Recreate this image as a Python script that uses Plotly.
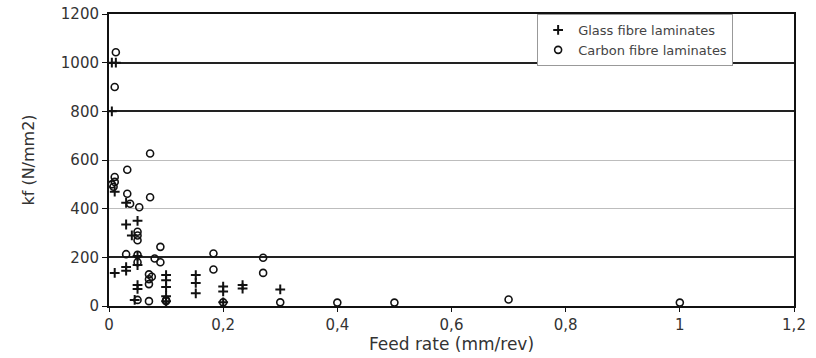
import plotly.graph_objects as go

# Glass fibre laminates (feed rate mm/rev, kf N/mm2)
glass_x = [0.005, 0.012, 0.005, 0.01, 0.03, 0.03, 0.05, 0.04, 0.05, 0.05, 0.01, 0.03, 0.03,
           0.05, 0.05, 0.045, 0.1, 0.1, 0.1, 0.1, 0.1, 0.152, 0.152, 0.152, 0.2, 0.2, 0.2,
           0.234, 0.234, 0.3]
glass_y = [1000, 1000, 800, 470, 424, 335, 350, 290, 205, 168, 136, 160, 145,
           86, 70, 25, 127, 106, 78, 40, 20, 127, 95, 52, 80, 60, 15,
           86, 72, 68]

# Carbon fibre laminates
carbon_x = [0.012, 0.01, 0.072, 0.032, 0.01, 0.005, 0.01, 0.008, 0.032, 0.072, 0.037, 0.053,
            0.05, 0.05, 0.05, 0.09, 0.03, 0.05, 0.08, 0.09, 0.183, 0.183, 0.27, 0.27,
            0.07, 0.075, 0.07, 0.07, 0.07, 0.1, 0.1, 0.2, 0.3, 0.4, 0.5, 0.7, 1.0, 0.05, 0.05]
carbon_y = [1043, 900, 627, 560, 530, 500, 510, 490, 461, 447, 420, 406,
            305, 290, 270, 243, 213, 210, 195, 180, 216, 150, 198, 136,
            130, 120, 110, 90, 20, 20, 25, 15, 15, 14, 14, 27, 14, 25, 180]

x_tickvals = [0, 0.2, 0.4, 0.6, 0.8, 1.0, 1.2]
x_ticktext = ["0", "0,2", "0,4", "0,6", "0,8", "1", "1,2"]
y_tickvals = [0, 200, 400, 600, 800, 1000, 1200]
y_dark_grid = [200, 800, 1000]

font_family = "DejaVu Sans, Arial, sans-serif"

fig = go.Figure()
fig.add_trace(go.Scatter(
    x=glass_x, y=glass_y, mode="markers", name="Glass fibre laminates",
    marker=dict(symbol="cross-thin", size=7, color="#111", line=dict(width=2, color="#111")),
))
fig.add_trace(go.Scatter(
    x=carbon_x, y=carbon_y, mode="markers", name="Carbon fibre laminates",
    marker=dict(symbol="circle-open", size=7, color="#111", line=dict(width=1.6, color="#111")),
))
# invisible trace anchoring the overlay axis for dark gridlines
fig.add_trace(go.Scatter(x=[None], y=[None], yaxis="y2", showlegend=False, hoverinfo="skip"))

fig.update_layout(
    width=816, height=358,
    margin=dict(l=109, r=22, t=14, b=52),
    paper_bgcolor="white", plot_bgcolor="white",
    font=dict(family=font_family, color="#333", size=15),
    showlegend=True,
    legend=dict(
        x=0.625, y=1.0, xanchor="left", yanchor="top",
        bordercolor="#999", borderwidth=1, bgcolor="white",
        font=dict(size=13, color="#444"),
        tracegroupgap=0, itemwidth=30,
    ),
    xaxis=dict(
        range=[0, 1.2], tickvals=x_tickvals, ticktext=x_ticktext,
        showgrid=False, zeroline=False, automargin=False,
        showline=True, linecolor="#111", linewidth=2, mirror=True,
        ticks="outside", ticklen=4, tickcolor="#111",
        title=dict(text="Feed rate (mm/rev)", font=dict(size=17, color="#333"), standoff=4),
        tickfont=dict(size=15, color="#333"),
    ),
    yaxis=dict(
        range=[0, 1200], tickvals=y_tickvals,
        showgrid=True, gridcolor="#bdbdbd", gridwidth=1, zeroline=False, automargin=False,
        showline=True, linecolor="#111", linewidth=2, mirror=True,
        ticks="outside", ticklen=5, tickcolor="#111",
        title=dict(text="kf (N/mm2)", font=dict(size=16, color="#333"), standoff=22),
        tickfont=dict(size=15, color="#333"),
    ),
    yaxis2=dict(
        range=[0, 1200], overlaying="y", side="left", tickvals=y_dark_grid,
        showgrid=True, gridcolor="#222", gridwidth=1.5, zeroline=False,
        showticklabels=False, showline=False, ticks="",
    ),
)

fig.write_html("out.html")
